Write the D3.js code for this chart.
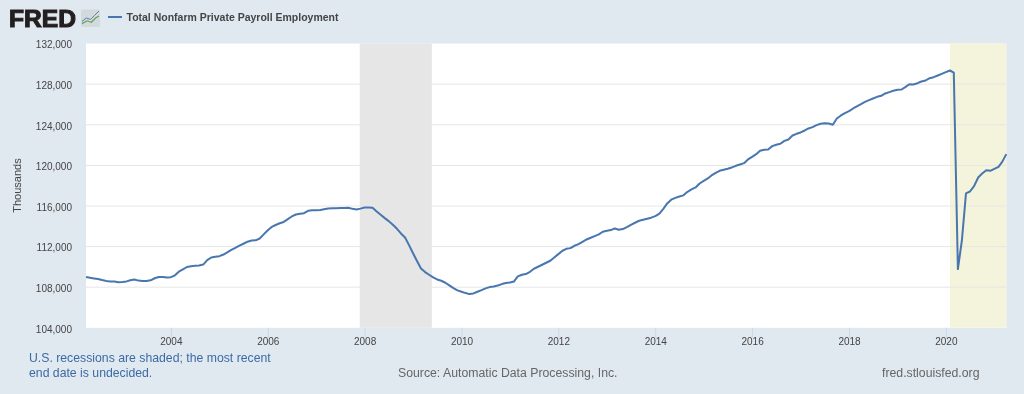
<!DOCTYPE html>
<html><head><meta charset="utf-8">
<script src="https://cdn.jsdelivr.net/npm/d3@7/dist/d3.min.js"></script>
<style>html,body{margin:0;padding:0;background:#e1e9f0;overflow:hidden}svg{display:block;filter:blur(0.35px)}text{font-family:"Liberation Sans",Arial,sans-serif}</style>
</head><body><svg id="c" width="1024" height="394"></svg>
<script>
const startDate = "2002-04-01";
const payroll = [
109000,108930,108860,108800,108700,108620,108570,108570,108480,108520,108570,108680,
108750,108650,108610,108620,108680,108880,109010,109010,108960,108990,109170,109530,
109760,109990,110060,110110,110130,110230,110660,110930,110990,111060,111220,111430,
111680,111880,112100,112280,112480,112600,112620,112800,113200,113610,113950,114130,
114300,114430,114700,114970,115160,115240,115290,115530,115570,115590,115600,115680,
115750,115780,115790,115800,115810,115830,115720,115660,115740,115860,115857,115825,
115463,115135,114806,114510,114150,113756,113296,112900,112147,111326,110538,109849,
109488,109225,108962,108766,108634,108437,108175,107912,107683,107550,107420,107321,
107387,107550,107715,107880,108010,108076,108175,108306,108405,108455,108570,109060,
109225,109290,109520,109816,110013,110210,110408,110604,110930,111260,111590,111786,
111850,112080,112245,112475,112700,112870,113030,113200,113460,113560,113625,113790,
113660,113725,113920,114150,114350,114545,114650,114750,114850,115000,115250,115700,
116250,116620,116800,116930,117050,117400,117630,117827,118220,118480,118714,119010,
119270,119470,119570,119665,119800,119960,120090,120220,120585,120848,121110,121440,
121537,121570,121900,122030,122130,122420,122555,122950,123113,123245,123440,123640,
123770,123966,124100,124163,124130,124000,124620,124918,125148,125345,125607,125805,
126035,126264,126428,126592,126757,126855,127085,127216,127348,127446,127479,127709,
128000,127970,128100,128267,128365,128595,128694,128858,129022,129186,129350,129150,
109782,112600,117240,117430,117957,118810,119200,119530,119465,119660,119860,120350,121110
];
const yTicks = [104000,108000,112000,116000,120000,124000,128000,132000];
const xTickYears = [2004,2006,2008,2010,2012,2014,2016,2018,2020];
const recessions = [["2007-11-25","2009-05-22"],["2020-02-01","2021-04-01"]];
const recessionFills = ["#e6e6e6","#f4f4dc"];
const titleText = "Total Nonfarm Private Payroll Employment";
const noteLines = ["U.S. recessions are shaded; the most recent","end date is undecided."];
const sourceText = "Source: Automatic Data Processing, Inc.";
const siteText = "fred.stlouisfed.org";
const axisTitle = "Thousands";

const parse = d3.utcParse("%Y-%m-%d");
const dates = d3.utcMonth.range(parse(startDate), d3.utcMonth.offset(parse(startDate), payroll.length));
const M = {l:86,r:1006.3,t:43.6,b:327.8};
const x = d3.scaleUtc().domain([dates[0],dates[dates.length-1]]).range([M.l,M.r]);
const y = d3.scaleLinear().domain([104000,132000]).range([M.b,M.t]);
const svg = d3.select("#c");
svg.append("rect").attr("x",M.l).attr("y",M.t).attr("width",M.r-M.l).attr("height",M.b-M.t).attr("fill","#fff");
svg.append("g").selectAll("rect").data(recessions).join("rect")
 .attr("x",d=>x(parse(d[0]))).attr("width",d=>x(parse(d[1]))-x(parse(d[0])))
 .attr("y",M.t).attr("height",M.b-M.t).attr("fill",(d,i)=>recessionFills[i]);
svg.append("g").selectAll("line").data(yTicks.filter(d=>d>104000&&d<132000)).join("line")
 .attr("x1",M.l).attr("x2",M.r).attr("y1",d=>y(d)).attr("y2",d=>y(d)).attr("stroke","#e6e6e6").attr("stroke-width",1);

const gx = svg.append("g").attr("transform",`translate(0,${M.b})`)
 .call(d3.axisBottom(x).tickValues(xTickYears.map(v=>new Date(Date.UTC(v,0,1)))).tickFormat(d3.utcFormat("%Y")).tickSize(10).tickPadding(0));
gx.select(".domain").remove();
gx.selectAll("line").attr("stroke","#ccd6eb");
gx.selectAll("text").attr("fill","#444").attr("dy","0.71em").style("font-size","10px").style("font-family","'Liberation Sans',Arial,sans-serif");
const gy = svg.append("g").attr("transform",`translate(${M.l},0)`)
 .call(d3.axisLeft(y).tickValues(yTicks).tickFormat(d3.format(",")).tickSize(0).tickPadding(14));
gy.select(".domain").remove();
gy.selectAll("text").attr("fill","#444").attr("dy","0.42em").style("font-size","10px").style("font-family","'Liberation Sans',Arial,sans-serif");

svg.append("text").attr("transform","translate(21,185.5) rotate(-90)").attr("text-anchor","middle")
 .attr("fill","#444").style("font-size","11px").text(axisTitle);

const line = d3.line().x((d,i)=>x(dates[i])).y(d=>y(d));
svg.append("path").datum(payroll).attr("d",line).attr("fill","none").attr("stroke","#4876ae").attr("stroke-width",2).attr("stroke-linejoin","round");

// header
svg.append("text").attr("x",9).attr("y",27).attr("fill","#231f20").style("font-size","24px").style("font-weight","700")
 .attr("stroke","#231f20").attr("stroke-width",1.1).attr("textLength",67).attr("lengthAdjust","spacingAndGlyphs").text("FRED");
svg.append("rect").attr("x",81).attr("y",9.5).attr("width",19).attr("height",17.5).attr("rx",1.5).attr("fill","#d3dade");
const logoA=[[0,0.25],[0.25,0.5],[0.5,0.4],[0.75,0.7],[1,1]], logoB=[[0,0.1],[0.3,0.3],[0.55,0.2],[0.8,0.5],[1,0.65]];
const lx=d3.scaleLinear().range([82,99]), ly=d3.scaleLinear().range([25,11]);
const ll=d3.line().x(d=>lx(d[0])).y(d=>ly(d[1]));
svg.append("path").attr("d",ll(logoA)).attr("fill","none").attr("stroke","#4f82b5").attr("stroke-width",1);
svg.append("path").attr("d",ll(logoB)).attr("fill","none").attr("stroke","#6f9e4f").attr("stroke-width",1.2);
svg.append("line").attr("x1",108).attr("x2",122).attr("y1",17).attr("y2",17).attr("stroke","#4876ae").attr("stroke-width",2);
svg.append("text").attr("x",126.5).attr("y",21).attr("fill","#444").style("font-size","11px").style("font-weight","700")
 .attr("textLength",212).attr("lengthAdjust","spacingAndGlyphs").text(titleText);

// footer
svg.append("g").selectAll("text").data(noteLines).join("text").attr("x",29).attr("y",(d,i)=>361.5+i*15)
 .attr("fill","#3c6aa5").style("font-size","12.25px").text(d=>d);
svg.append("text").attr("x",398).attr("y",376.5).attr("fill","#666").style("font-size","12.28px").text(sourceText);
svg.append("text").attr("x",882).attr("y",376.5).attr("fill","#666").style("font-size","12.28px").text(siteText);
</script></body></html>
